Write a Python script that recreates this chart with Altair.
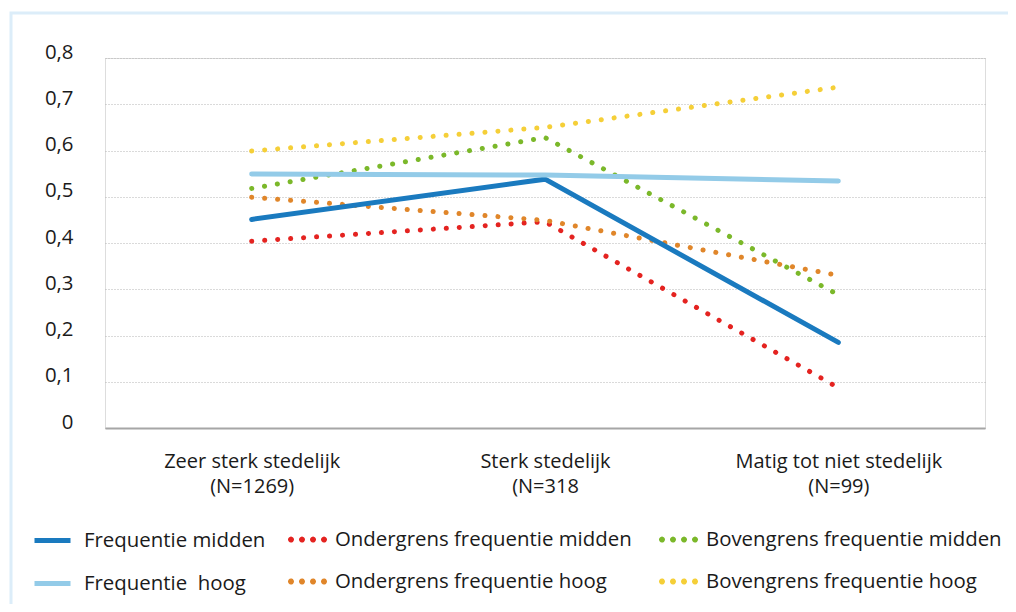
import altair as alt
import pandas as pd

categories = ["Zeer sterk stedelijk\n(N=1269)", "Sterk stedelijk\n(N=318", "Matig tot niet stedelijk\n(N=99)"]

solid_series = ["Frequentie midden", "Frequentie \u00a0hoog"]
dotted_series = [
    "Ondergrens frequentie midden",
    "Bovengrens frequentie midden",
    "Ondergrens frequentie hoog",
    "Bovengrens frequentie hoog",
]

freq_midden = [0.451, 0.538, 0.185]
freq_hoog = [0.549, 0.547, 0.534]
onder_midden = [0.404, 0.446, 0.087]
boven_midden = [0.518, 0.628, 0.288]
onder_hoog = [0.499, 0.449, 0.330]
boven_hoog = [0.599, 0.650, 0.737]

solid_colors = ["#1a7abf", "#93cbe8"]
dotted_colors = ["#e42320", "#7bb82a", "#e0862a", "#f5cf38"]


def long(names, series_values):
    rows = []
    for s, vals in zip(names, series_values):
        for c, v in zip(categories, vals):
            rows.append({"categorie": c, "reeks": s, "waarde": v})
    return pd.DataFrame(rows)


df_solid = long(solid_series, [freq_midden, freq_hoog])
df_dotted = long(dotted_series, [onder_midden, boven_midden, onder_hoog, boven_hoog])

FONT = "Open Sans"
TXT = "#1a1a1a"
FS = 20.4

x_enc = alt.X(
    "categorie:N",
    sort=categories,
    scale=alt.Scale(type="point", padding=0.5),
    axis=alt.Axis(
        title=None,
        labelAngle=0,
        domainColor="#a6a6a6",
        domainWidth=2,
        ticks=False,
        grid=False,
        labelFontSize=20,
        labelFont=FONT,
        labelColor=TXT,
        labelLimit=0,
        labelPadding=23,
        labelLineHeight=25,
        labelBaseline="top",
        labelExpr="split(datum.label, '\\n')",
    ),
)

y_enc = alt.Y(
    "waarde:Q",
    scale=alt.Scale(domain=[0, 0.8]),
    axis=alt.Axis(
        title=None,
        values=[0, 0.1, 0.2, 0.3, 0.4, 0.5, 0.6, 0.7, 0.8],
        domain=False,
        ticks=False,
        gridColor="#b5b5b5",
        gridDash=[1, 2],
        gridWidth=1,
        labelFontSize=FS,
        labelFont=FONT,
        labelColor=TXT,
        labelBaseline="alphabetic",
        labelPadding=32,
        labelExpr="replace(format(datum.value, '.1~f'), '.', ',')",
    ),
)

common_legend = dict(
    title=None,
    orient="none",
    direction="horizontal",
    labelFontSize=FS,
    labelFont=FONT,
    labelColor=TXT,
    labelLimit=0,
    rowPadding=12,
    legendY=462,
)

legend_solid = alt.Legend(
    legendX=-73,
    columns=1,
    symbolType="stroke",
    symbolSize=1296,
    symbolStrokeWidth=5,
    labelOffset=11,
    **common_legend,
)


def dot(cx, r=0.0833):
    return f"M{cx - r},0a{r},{r} 0 1,0 {2 * r},0a{r},{r} 0 1,0 {-2 * r},0"


dots_path = "".join(dot(cx) for cx in [-0.917, -0.306, 0.306, 0.917])

legend_dotted = alt.Legend(
    legendX=183,
    columns=2,
    symbolType=dots_path,
    symbolSize=1296,
    symbolStrokeWidth=3,
    symbolDash=[1, 0],
    labelOffset=8,
    columnPadding=22,
    **common_legend,
)

dotted = alt.Chart(df_dotted).mark_line(
    strokeWidth=5, strokeCap="round", strokeDash=[0.1, 12.9]
).encode(
    x=x_enc,
    y=y_enc,
    color=alt.Color("reeks:N", sort=dotted_series,
                    scale=alt.Scale(domain=dotted_series, range=dotted_colors),
                    legend=legend_dotted),
)

solid_lines = alt.Chart(df_solid).mark_line(strokeWidth=5, strokeCap="round").encode(
    x=x_enc,
    y=y_enc,
    color=alt.Color("reeks:N", sort=solid_series,
                    scale=alt.Scale(domain=solid_series, range=solid_colors),
                    legend=legend_solid),
)

frame = alt.Chart(pd.DataFrame({"k": [0]})).mark_rect(
    fill=None, stroke="#dcedf9", strokeWidth=3
).encode(
    x=alt.value(-94), x2=alt.value(2000), y=alt.value(-45), y2=alt.value(900)
)

chart = alt.layer(frame, dotted, solid_lines).resolve_scale(
    color="independent"
).resolve_legend(color="independent").properties(
    width=880,
    height=370,
    autosize=alt.AutoSizeParams(type="none"),
    padding={"left": 97, "top": 50, "right": 23, "bottom": 176},
).configure_view(stroke=None).configure(background="white")

chart.save("out.html", embed_options={"renderer": "svg", "actions": False})
